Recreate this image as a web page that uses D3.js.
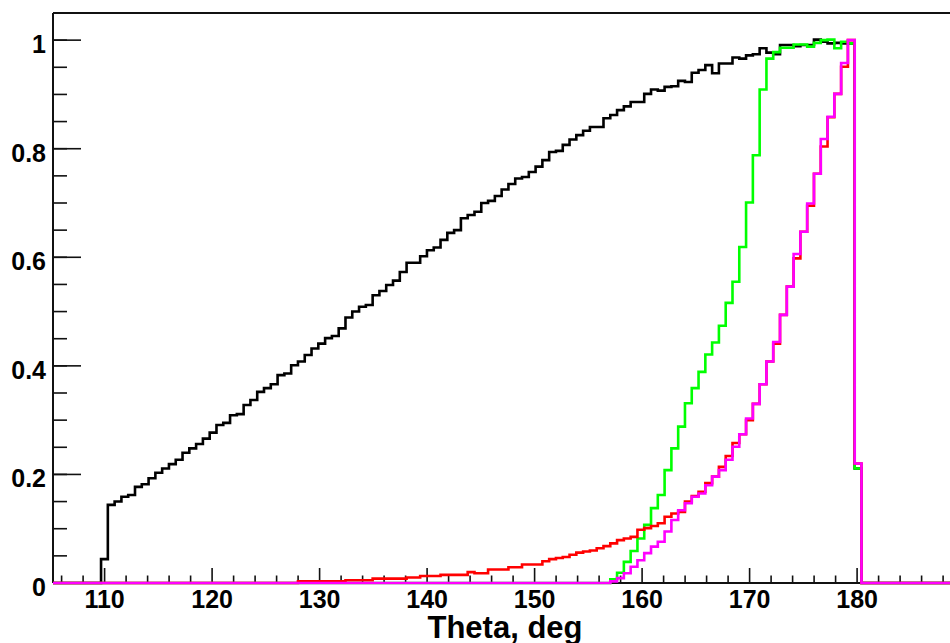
<!DOCTYPE html>
<html>
<head>
<meta charset="UTF-8">
<title>Theta distributions</title>
<script src="https://d3js.org/d3.v7.min.js"></script>
<style>
    body { margin: 0; background: #fff; }
    svg { display: block; background: #fff; }
    .tick-label { font-family: 'Liberation Sans', Arial, sans-serif; font-weight: bold; font-size: 25px; fill: #000; }
    .axis-title { font-family: 'Liberation Sans', Arial, sans-serif; font-weight: bold; font-size: 31px; fill: #000; }
    .hist { fill: none; stroke-width: 2.6px; stroke-linejoin: miter; }
</style>
</head>
<body>
<svg width="950" height="643"></svg>
<script>
// binning of the histograms (deg)
const binStart = 109.67;
const binWidth = 0.6316;

const xTicks = [110, 120, 130, 140, 150, 160, 170, 180];
const yTicks = [0, 0.2, 0.4, 0.6, 0.8, 1];

// black: bins 0..111
const blackFirstBin = 0;
const blackValues = [0.044,
    0.144, 0.150, 0.159, 0.162, 0.177, 0.182, 0.193, 0.203, 0.211, 0.219,
    0.227, 0.240, 0.248, 0.256, 0.266, 0.277, 0.291, 0.295, 0.309, 0.311,
    0.328, 0.337, 0.352, 0.359, 0.366, 0.383, 0.386, 0.401, 0.408, 0.420,
    0.432, 0.441, 0.451, 0.455, 0.469, 0.489, 0.500, 0.509, 0.512, 0.530,
    0.538, 0.549, 0.557, 0.573, 0.590, 0.590, 0.602, 0.613, 0.618, 0.632,
    0.645, 0.650, 0.672, 0.678, 0.684, 0.700, 0.704, 0.713, 0.725, 0.735,
    0.745, 0.748, 0.757, 0.767, 0.779, 0.794, 0.796, 0.807, 0.817, 0.825,
    0.833, 0.840, 0.840, 0.856, 0.862, 0.871, 0.878, 0.886, 0.886, 0.901,
    0.909, 0.907, 0.914, 0.915, 0.925, 0.923, 0.940, 0.945, 0.954, 0.939,
    0.957, 0.957, 0.968, 0.966, 0.972, 0.974, 0.985, 0.977, 0.974, 0.991,
    0.991, 0.989, 0.991, 0.991, 1.001, 0.997, 0.994, 0.995, 0.994, 0.994,
    0.211];

// red: bins 29..111
const redFirstBin = 29;
const redValues = [
    0.003, 0.003, 0.003, 0.003, 0.003, 0.003, 0.003,
    0.005, 0.005, 0.005, 0.005,
    0.008, 0.008, 0.008, 0.008, 0.008,
    0.010, 0.010, 0.013, 0.013, 0.013,
    0.015, 0.015, 0.015, 0.015, 0.020, 0.018, 0.018,
    0.025, 0.025, 0.025, 0.029, 0.029, 0.034, 0.034, 0.034,
    0.040, 0.044, 0.046, 0.048, 0.052, 0.056, 0.058, 0.060, 0.064, 0.068,
    0.073, 0.079, 0.082, 0.085, 0.098, 0.101, 0.105, 0.110, 0.122, 0.128,
    0.131, 0.150, 0.160, 0.168, 0.184, 0.196, 0.214, 0.234, 0.258, 0.274,
    0.300, 0.330, 0.366, 0.408, 0.441, 0.494, 0.546, 0.598, 0.647, 0.695,
    0.754, 0.804, 0.858, 0.901, 0.951, 1.000, 0.220];

// green: bins 75..111
const greenFirstBin = 75;
const greenValues = [
    0.007, 0.019, 0.039, 0.059, 0.082, 0.107, 0.138, 0.162, 0.208, 0.248,
    0.288, 0.331, 0.359, 0.389, 0.421, 0.443, 0.474, 0.516, 0.555, 0.619,
    0.701, 0.788, 0.909, 0.966, 0.978, 0.986, 0.986, 0.992, 0.992, 0.988,
    0.995, 1.000, 1.001, 0.985, 0.997, 0.994, 0.211];

// magenta: bins 75..111
const magentaFirstBin = 75;
const magentaValues = [
    0.003, 0.009, 0.018, 0.030, 0.042, 0.055, 0.067, 0.076, 0.095, 0.116,
    0.134, 0.147, 0.159, 0.165, 0.180, 0.196, 0.208, 0.227, 0.251, 0.274,
    0.303, 0.330, 0.366, 0.408, 0.444, 0.494, 0.546, 0.606, 0.647, 0.699,
    0.754, 0.818, 0.859, 0.901, 0.958, 1.000, 0.220];

const svg = d3.select("svg");
const padLeft = 53, padTop = 13, baseY = 583;
const xMin = 105.2, xMax = 190;

const x = d3.scaleLinear().domain([xMin, xMax]).range([padLeft, padLeft + (xMax - xMin) * 10.75]);
const y = d3.scaleLinear().domain([0, 1.05]).range([baseY, padTop]);

// step outline like a ROOT histogram
function histPoints(firstBin, values) {
    const pts = [[xMin, 0]];
    values.forEach((v, i) => {
        const lo = binStart + (firstBin + i) * binWidth;
        const hi = lo + binWidth;
        if (i === 0) pts.push([lo, 0]);
        pts.push([lo, v], [hi, v]);
    });
    const end = binStart + (firstBin + values.length) * binWidth;
    pts.push([end, 0], [xMax, 0]);
    return pts;
}

const line = d3.line().x(d => x(d[0])).y(d => y(d[1]));

const series = [
    { first: blackFirstBin, values: blackValues, color: "#000000" },
    { first: greenFirstBin, values: greenValues, color: "#00ff00" },
    { first: redFirstBin, values: redValues, color: "#ff0000" },
    { first: magentaFirstBin, values: magentaValues, color: "#ff00ff" }
];

// frame
svg.append("line").attr("x1", padLeft).attr("x2", 950).attr("y1", padTop).attr("y2", padTop)
    .attr("stroke", "#111").attr("stroke-width", 2);
svg.append("line").attr("x1", padLeft).attr("x2", padLeft).attr("y1", padTop).attr("y2", baseY)
    .attr("stroke", "#111").attr("stroke-width", 2);
svg.append("line").attr("x1", padLeft).attr("x2", 950).attr("y1", baseY).attr("y2", baseY)
    .attr("stroke", "#111").attr("stroke-width", 2);

// x axis ticks
const xMinor = d3.range(106, 190, 2).filter(v => v % 10 !== 0);
svg.selectAll(".xminor").data(xMinor).enter().append("line")
    .attr("x1", d => x(d)).attr("x2", d => x(d))
    .attr("y1", baseY).attr("y2", baseY - 7.5)
    .attr("stroke", "#111").attr("stroke-width", 1.6);
svg.selectAll(".xmajor").data(xTicks.concat([190])).enter().append("line")
    .attr("x1", d => x(d)).attr("x2", d => x(d))
    .attr("y1", baseY).attr("y2", baseY - 15)
    .attr("stroke", "#111").attr("stroke-width", 1.6);
svg.selectAll(".xlab").data(xTicks).enter().append("text")
    .attr("class", "tick-label")
    .attr("x", d => x(d)).attr("y", 608)
    .attr("text-anchor", "middle")
    .text(d => d);

// y axis ticks: minor every 0.05, major every 0.2
const yMinor = d3.range(0, 21).map(i => i * 0.05);
svg.selectAll(".yminor").data(yMinor).enter().append("line")
    .attr("x1", padLeft).attr("x2", padLeft + 14)
    .attr("y1", d => y(d)).attr("y2", d => y(d))
    .attr("stroke", "#111").attr("stroke-width", 1.6);
svg.selectAll(".ymajor").data(yTicks).enter().append("line")
    .attr("x1", padLeft).attr("x2", padLeft + 28)
    .attr("y1", d => y(d)).attr("y2", d => y(d))
    .attr("stroke", "#111").attr("stroke-width", 1.6);
svg.selectAll(".ylab").data(yTicks).enter().append("text")
    .attr("class", "tick-label")
    .attr("x", 46).attr("y", d => y(d) + 13)
    .attr("text-anchor", "end")
    .text(d => d3.format("~g")(d));

// histograms
svg.selectAll(".hist").data(series).enter().append("path")
    .attr("class", "hist")
    .attr("stroke", d => d.color)
    .attr("d", d => line(histPoints(d.first, d.values)));

// axis title
svg.append("text")
    .attr("class", "axis-title")
    .attr("x", 505).attr("y", 638)
    .attr("text-anchor", "middle")
    .text("Theta, deg");
</script>
</body>
</html>
